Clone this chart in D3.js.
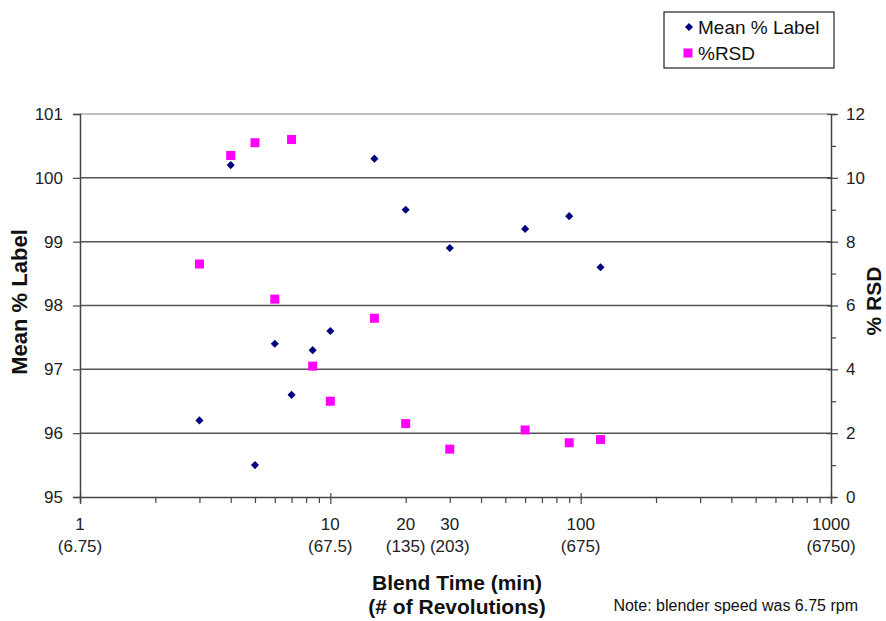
<!DOCTYPE html>
<html>
<head>
<meta charset="utf-8">
<script src="https://cdn.jsdelivr.net/npm/d3@7"></script>
<style>
  body { margin: 0; background: #fff; }
  text { font-family: "Liberation Sans", Arial, sans-serif; }
</style>
</head>
<body>
<div id="chart"></div>
<script>
// Blend time (min) and measured values
const blendTime = [3, 4, 5, 6, 7, 8.5, 10, 15, 20, 30, 60, 90, 120];
const meanLabel = [96.2, 100.2, 95.5, 97.4, 96.6, 97.3, 97.6, 100.3, 99.5, 98.9, 99.2, 99.4, 98.6];
const rsd = [7.3, 10.7, 11.1, 6.2, 11.2, 4.1, 3.0, 5.6, 2.3, 1.5, 2.1, 1.7, 1.8];

// x tick labels: minutes and revolutions
const xTicks = [1, 10, 20, 30, 100, 1000];
const xRevs = ['(6.75)', '(67.5)', '(135)', '(203)', '(675)', '(6750)'];

const width = 886, height = 621;
const margin = { top: 114, right: 55, bottom: 124, left: 80 };
const plotW = width - margin.left - margin.right;
const plotH = height - margin.top - margin.bottom;

const svg = d3.select('#chart').append('svg')
    .attr('width', width)
    .attr('height', height);

const g = svg.append('g')
    .attr('transform', `translate(${margin.left},${margin.top})`);

const x = d3.scaleLog().domain([1, 1000]).range([0, plotW]);
const yLeft = d3.scaleLinear().domain([95, 101]).range([plotH, 0]);
const yRight = d3.scaleLinear().domain([0, 12]).range([plotH, 0]);

// Gridlines
g.selectAll('.grid')
    .data(d3.range(96, 101))
    .enter().append('line')
    .attr('x1', 0).attr('x2', plotW)
    .attr('y1', d => yLeft(d)).attr('y2', d => yLeft(d))
    .attr('stroke', '#555')
    .attr('stroke-width', 1.5);

g.append('line')
    .attr('x1', 0).attr('x2', plotW)
    .attr('y1', yLeft(101)).attr('y2', yLeft(101))
    .attr('stroke', '#aaa')
    .attr('stroke-width', 1.5);

// Left axis
const leftAxis = g.append('g')
    .call(d3.axisLeft(yLeft).ticks(6).tickFormat(d3.format('d')).tickSize(7).tickPadding(10));

// Right axis: minor ticks every 1, labels every 2
const rightAxis = g.append('g')
    .attr('transform', `translate(${plotW},0)`)
    .call(d3.axisRight(yRight).tickValues(d3.range(0, 13, 1)).tickSize(5)
        .tickFormat(d => d % 2 === 0 ? d : '').tickPadding(10));
rightAxis.selectAll('.tick')
    .filter(d => d % 2 === 0)
    .select('line')
    .attr('x1', -4).attr('x2', 7);

// Bottom axis: log ticks, no labels (custom two-line labels below)
const logTicks = [];
[1, 10, 100].forEach(dec => {
    for (let k = 1; k <= 9; k++) logTicks.push(dec * k);
});
logTicks.push(1000);

const bottomAxis = g.append('g')
    .attr('transform', `translate(0,${plotH})`)
    .call(d3.axisBottom(x).tickValues(logTicks).tickSize(6).tickFormat(''));

[leftAxis, rightAxis, bottomAxis].forEach(ax => {
    ax.select('.domain').attr('stroke', '#444').attr('stroke-width', 1.5);
    ax.selectAll('.tick line').attr('stroke', '#444').attr('stroke-width', 1.2);
    ax.selectAll('.tick text')
        .attr('fill', '#222')
        .style('font-size', '17px')
        .style('font-family', '"Liberation Sans", Arial, sans-serif');
});
bottomAxis.selectAll('.tick')
    .filter(d => [1, 10, 100, 1000].includes(d))
    .select('line').attr('y1', -4).attr('y2', 7);

// Two-line x tick labels
const xLab = g.append('g').attr('transform', `translate(0,${plotH})`);
xTicks.forEach((t, i) => {
    xLab.append('text')
        .attr('x', x(t)).attr('y', 33)
        .attr('text-anchor', 'middle')
        .attr('fill', '#222')
        .style('font-size', '17px')
        .text(t);
    xLab.append('text')
        .attr('x', x(t)).attr('y', 55)
        .attr('text-anchor', 'middle')
        .attr('fill', '#222')
        .style('font-size', '17px')
        .text(xRevs[i]);
});

// Points: Mean % Label (navy diamonds)
g.selectAll('.mean')
    .data(blendTime)
    .enter().append('path')
    .attr('d', d3.symbol().type(d3.symbolDiamond2).size(42))
    .attr('transform', (d, i) => `translate(${x(d)},${yLeft(meanLabel[i])})`)
    .attr('fill', '#000080');

// Points: %RSD (magenta squares)
g.selectAll('.rsd')
    .data(blendTime)
    .enter().append('rect')
    .attr('x', d => x(d) - 4.5)
    .attr('y', (d, i) => yRight(rsd[i]) - 4.5)
    .attr('width', 9).attr('height', 9)
    .attr('fill', '#ff00ff');

// Axis titles
svg.append('text')
    .attr('transform', 'translate(27,302) rotate(-90)')
    .attr('text-anchor', 'middle')
    .style('font-size', '22px')
    .style('font-weight', 'bold')
    .attr('fill', '#111')
    .text('Mean % Label');

svg.append('text')
    .attr('transform', 'translate(881,301) rotate(-90)')
    .attr('text-anchor', 'middle')
    .style('font-size', '21px')
    .style('font-weight', 'bold')
    .attr('fill', '#111')
    .text('% RSD');

svg.append('text')
    .attr('x', 457).attr('y', 590)
    .attr('text-anchor', 'middle')
    .style('font-size', '21px')
    .style('font-weight', 'bold')
    .attr('fill', '#111')
    .text('Blend Time (min)');

svg.append('text')
    .attr('x', 457).attr('y', 614)
    .attr('text-anchor', 'middle')
    .style('font-size', '21px')
    .style('font-weight', 'bold')
    .attr('fill', '#111')
    .text('(# of Revolutions)');

svg.append('text')
    .attr('x', 858).attr('y', 611)
    .attr('text-anchor', 'end')
    .style('font-size', '16px')
    .attr('fill', '#111')
    .text('Note: blender speed was 6.75 rpm');

// Legend
const legend = svg.append('g').attr('transform', 'translate(664,12)');
legend.append('rect')
    .attr('width', 170).attr('height', 56)
    .attr('fill', '#fff')
    .attr('stroke', '#222')
    .attr('stroke-width', 1.2);
legend.append('path')
    .attr('d', d3.symbol().type(d3.symbolDiamond2).size(42))
    .attr('transform', 'translate(25,15)')
    .attr('fill', '#000080');
legend.append('text')
    .attr('x', 34).attr('y', 22)
    .style('font-size', '19px')
    .attr('fill', '#111')
    .text('Mean % Label');
legend.append('rect')
    .attr('x', 19.5).attr('y', 36.5)
    .attr('width', 9).attr('height', 9)
    .attr('fill', '#ff00ff');
legend.append('text')
    .attr('x', 34).attr('y', 48)
    .style('font-size', '19px')
    .attr('fill', '#111')
    .text('%RSD');
</script>
</body>
</html>
